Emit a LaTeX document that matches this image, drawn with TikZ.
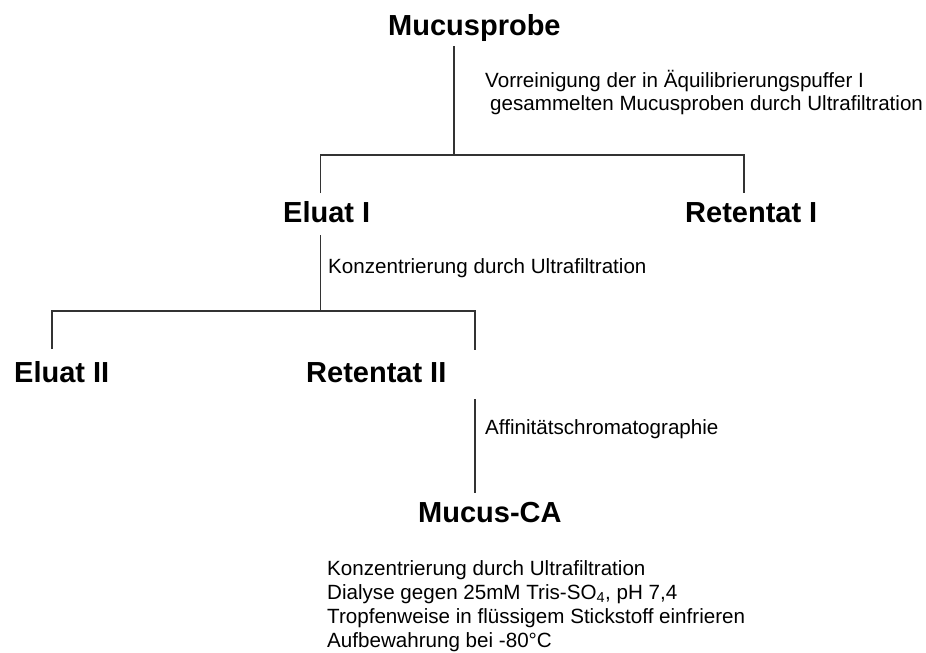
\documentclass[tikz,border=0pt]{standalone}
\usepackage{fontspec}
\setmainfont{Liberation Sans}
\begin{document}
\begin{tikzpicture}[x=1pt,y=-1pt,
  big/.style={font=\fontsize{29}{34}\selectfont\bfseries, inner sep=0pt, anchor=base west},
  small/.style={font=\fontsize{20.6}{24}\selectfont, inner sep=0pt, anchor=base west},
  link/.style={line width=1.1pt, draw=black!80}]
\useasboundingbox[fill=white] (0,0) rectangle (926,653);
% labels
\node[big] (mp) at (388,35) {Mucusprobe};
\node[small] (v1) at (485,87) {Vorreinigung der in Äquilibrierungspuffer I};
\node[small] (v2) at (490,110) {gesammelten Mucusproben durch Ultrafiltration};
\node[big] (e1) at (283,222) {Eluat I};
\node[big] (r1) at (685,222) {Retentat I};
\node[small] (k1) at (328,273.5) {Konzentrierung durch Ultrafiltration};
\node[big] (e2) at (14,382) {Eluat II};
\node[big] (r2) at (306,382) {Retentat II};
\node[small] (af) at (485,434) {Affinitätschromatographie};
\node[big] (mc) at (418,522) {Mucus-CA};
\node[small] (l1) at (327,575) {Konzentrierung durch Ultrafiltration};
\node[small] (l2) at (327,599) {Dialyse gegen 25mM Tris-SO\textsubscript{4}, pH 7,4};
\node[small] (l3) at (327,623) {Tropfenweise in flüssigem Stickstoff einfrieren};
\node[small] (l4) at (327,647) {Aufbewahrung bei -80°C};
% connector points
\coordinate (mpB) at (454,46);
\coordinate (j1) at (454,155);
\coordinate (h1L) at (320.5,155);
\coordinate (h1R) at (744,155);
\coordinate (e1T) at (320.5,193);
\coordinate (r1T) at (744,193);
\coordinate (e1B) at (320.5,235);
\coordinate (j2) at (320.5,311);
\coordinate (h2L) at (52,311);
\coordinate (h2R) at (475,311);
\coordinate (e2T) at (52,349);
\coordinate (r2T) at (475,350);
\coordinate (r2B) at (475,399);
\coordinate (mcT) at (475,493);
% connectors
\draw[link] (mpB) -- (j1);
\draw[link] (e1T) -- (h1L) -- (h1R) -- (r1T);
\draw[link] (e1B) -- (j2);
\draw[link] (e2T) -- (h2L) -- (h2R) -- (r2T);
\draw[link] (r2B) -- (mcT);
\end{tikzpicture}
\end{document}
